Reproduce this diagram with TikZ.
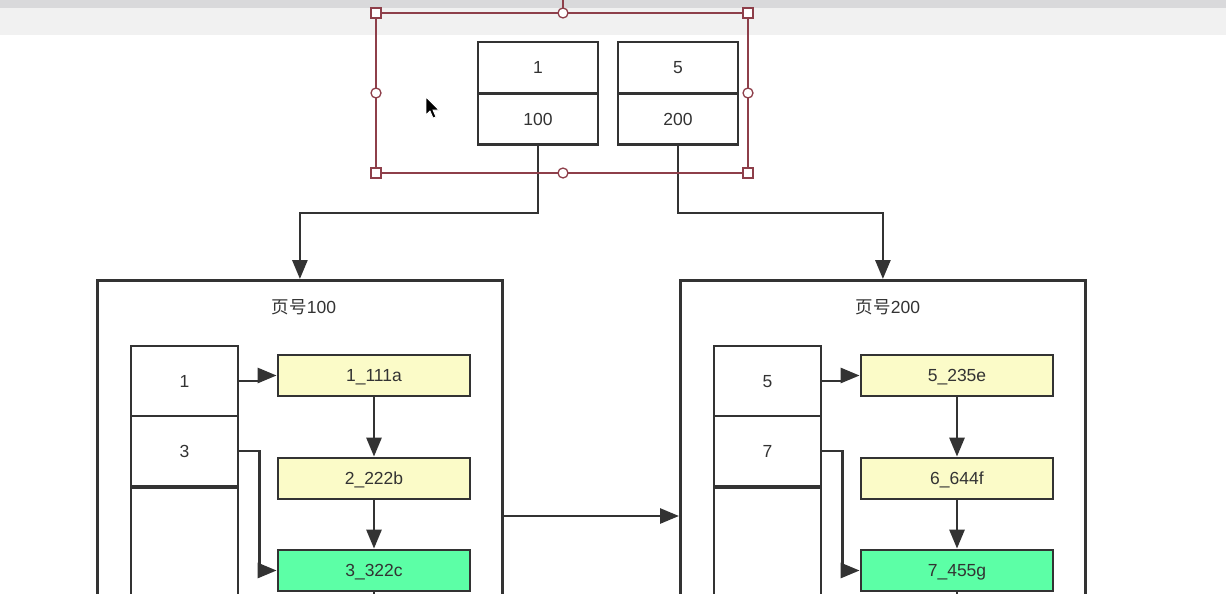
\documentclass[tikz,border=0pt]{standalone}
\usepackage{fontspec}
\setmainfont{Liberation Sans}
\newfontfamily\cjk{Noto Sans CJK SC}
\usetikzlibrary{arrows.meta}

\definecolor{ink}{HTML}{333333}
\definecolor{recyellow}{HTML}{FBFBC8}
\definecolor{recgreen}{HTML}{5CFFA6}
\definecolor{selred}{HTML}{8E3F4A}
\definecolor{bardark}{HTML}{D9D9DB}
\definecolor{barlight}{HTML}{F1F1F1}

\tikzset{
  txt/.style={text=ink, font=\fontsize{17.5}{17.5}\selectfont, text height=12.5pt, text depth=0pt},
  cell/.style={txt, draw=ink, line width=2.8pt, fill=white, minimum width=120pt, minimum height=51pt, inner sep=0pt},
  page/.style={draw=ink, line width=2.8pt, fill=white, minimum width=405pt, minimum height=340pt, anchor=north west},
  idx/.style={txt, draw=ink, line width=2.8pt, fill=white, minimum width=107pt, minimum height=70pt, inner sep=0pt},
  rec/.style={txt, draw=ink, line width=2.8pt, fill=recyellow, minimum width=192pt, minimum height=41pt, inner sep=0pt},
  hit/.style={rec, fill=recgreen},
  title/.style={txt},
  line/.style={draw=ink, line width=2.8pt},
  arr/.style={line, -{Triangle[length=19pt,width=15pt]}},
  handle/.style={draw=selred, line width=1.3pt, fill=white}
}

\begin{document}
\begin{tikzpicture}[x=1pt, y=-1pt]
    \path[use as bounding box] (0,0) rectangle (1226,594);
    \clip (0,0) rectangle (1226,594);
    \fill[white] (0,0) rectangle (1226,594);

    % toolbar band
    \fill[barlight] (0,8) rectangle (1226,35);
    \fill[bardark] (0,0) rectangle (1226,8);

    % root page
    \node[cell] (k1) at (538,67.5) {1};
    \node[cell] (p1) at (538,119) {100};
    \node[cell] (k5) at (678,67.5) {5};
    \node[cell] (p5) at (678,119) {200};

    % leaf pages
    \node[page] (pgL) at (96,279) {};
    \node[page] (pgR) at (679,279) {};
    \node[title] (tL) at (304,307) {{\cjk 页号}100};
    \node[title] (tR) at (888,307) {{\cjk 页号}200};

    \draw[arr] (p1.south) -- ++(0,67) -| (pgL.north);
    \draw[arr] (p5.south) -- ++(0,67) -| (pgR.north);

    \coordinate (mid) at (0,516);
    \draw[arr] (pgL.east |- mid) -- (pgR.west |- mid);

    % page 100
    \node[idx] (a1) at (184.5,381) {1};
    \node[idx] (a3) at (184.5,451) {3};
    \node[idx, minimum height=150pt, anchor=north] (a0) at (184.5,486) {};

    \node[rec] (r1) at (374,375.5) {1\_111a};
    \node[rec] (r2) at (374,478.5) {2\_222b};
    \node[hit] (r3) at (374,570.5) {3\_322c};

    \draw[arr] (a1.east) -- ++(20,0) |- (r1.west);
    \draw[arr] (a3.east) -- ++(20,0) |- (r3.west);
    \draw[arr] (r1.south) -- (r2.north);
    \draw[arr] (r2.south) -- (r3.north);
    \draw[line] (r3.south) -- ++(0,20);

    % page 200
    \node[idx] (b5) at (767.5,381) {5};
    \node[idx] (b7) at (767.5,451) {7};
    \node[idx, minimum height=150pt, anchor=north] (b0) at (767.5,486) {};

    \node[rec] (s5) at (957,375.5) {5\_235e};
    \node[rec] (s6) at (957,478.5) {6\_644f};
    \node[hit] (s7) at (957,570.5) {7\_455g};

    \draw[arr] (b5.east) -- ++(20,0) |- (s5.west);
    \draw[arr] (b7.east) -- ++(20,0) |- (s7.west);
    \draw[arr] (s5.south) -- (s6.north);
    \draw[arr] (s6.south) -- (s7.north);
    \draw[line] (s7.south) -- ++(0,20);

    % selection frame
    \draw[selred, line width=1.3pt] (563,0) -- (563,13);
    \draw[selred, line width=1.8pt] (376,13) rectangle (748,173);
    \foreach \x/\y in {376/13, 748/13, 376/173, 748/173}
        \draw[handle] (\x-5,\y-5) rectangle (\x+5,\y+5);
    \foreach \x/\y in {563/13, 376/93, 748/93, 563/173}
        \draw[handle] (\x,\y) circle (5);

    % pointer
    \fill[black, draw=white, line width=0.8pt] (426,97) -- (426,115) -- (430,111) -- (433,118) -- (436,117) -- (433,110) -- (439,110) -- cycle;

\end{tikzpicture}
\end{document}
